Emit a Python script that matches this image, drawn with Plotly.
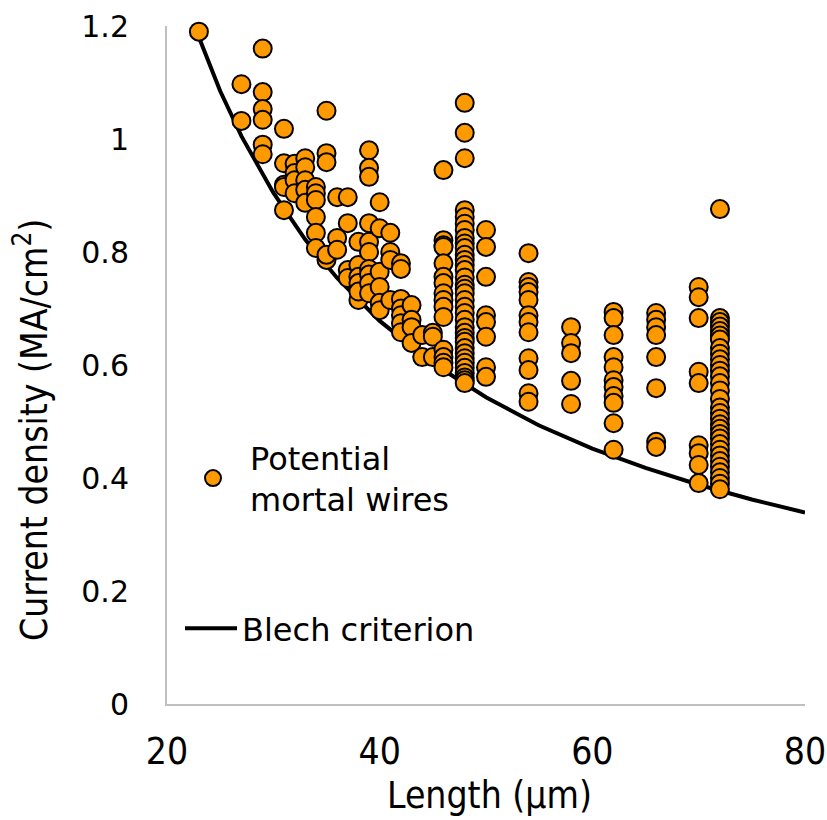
import plotly.graph_objects as go

# ---- data ----
wire_length = (
    [23] + [27]*2 + [29]*6 + [31]*5 + [32]*4 + [33]*5 + [34]*6 + [35]*5 + [36]*3 + [37]*4
    + [38]*6 + [39]*10 + [40]*6 + [41]*4 + [42]*7 + [43]*4 + [44]*2 + [45]*3 + [46]*15
    + [48]*35 + [50]*8 + [54]*12 + [58]*5 + [62]*11 + [66]*8 + [70]*9 + [72]*32
)
current_density = (
    [1.19]
    + [1.097, 1.032]
    + [1.16, 1.083, 1.053, 1.034, 0.99, 0.973]
    + [1.018, 0.957, 0.919, 0.874, 0.915]
    + [0.956, 0.94, 0.927, 0.904]
    + [0.966, 0.95, 0.927, 0.91, 0.887]
    + [0.915, 0.904, 0.892, 0.862, 0.834, 0.807]
    + [1.05, 0.975, 0.959, 0.786, 0.795]
    + [0.897, 0.825, 0.804]
    + [0.897, 0.851, 0.768, 0.754]
    + [0.818, 0.777, 0.756, 0.745, 0.715, 0.73]
    + [0.98, 0.949, 0.933, 0.851, 0.818, 0.8, 0.77, 0.76, 0.745, 0.727]
    + [0.888, 0.842, 0.765, 0.738, 0.71, 0.697]
    + [0.834, 0.8, 0.786, 0.715]
    + [0.78, 0.77, 0.717, 0.7, 0.688, 0.674, 0.658]
    + [0.706, 0.68, 0.667, 0.639]
    + [0.653, 0.614]
    + [0.657, 0.65, 0.614]
    + [0.945, 0.821, 0.812, 0.809, 0.78, 0.756, 0.745, 0.727, 0.715, 0.703, 0.685, 0.627, 0.614, 0.604, 0.596]
    + [1.064, 1.011, 0.966, 0.874, 0.862, 0.85, 0.839, 0.825, 0.815, 0.807, 0.795, 0.786, 0.777, 0.768,
       0.755, 0.742, 0.735, 0.727, 0.715, 0.703, 0.692, 0.68, 0.667, 0.657, 0.648, 0.641, 0.63, 0.621,
       0.612, 0.604, 0.595, 0.586, 0.578, 0.573, 0.568]
    + [0.839, 0.809, 0.756, 0.688, 0.676, 0.650, 0.596, 0.579]
    + [0.798, 0.747, 0.738, 0.729, 0.715, 0.688, 0.676, 0.658, 0.612, 0.591, 0.550, 0.535]
    + [0.667, 0.639, 0.621, 0.572, 0.531]
    + [0.694, 0.683, 0.653, 0.614, 0.596, 0.573, 0.561, 0.545, 0.533, 0.497, 0.45]
    + [0.692, 0.680, 0.667, 0.653, 0.614, 0.559, 0.464, 0.455]
    + [0.738, 0.72, 0.683, 0.588, 0.568, 0.458, 0.444, 0.423, 0.391]
    + [0.876, 0.683, 0.676, 0.668, 0.66, 0.652, 0.645, 0.63, 0.62, 0.61, 0.6, 0.59, 0.58, 0.568,
       0.555, 0.54, 0.525, 0.515, 0.505, 0.495, 0.487, 0.478, 0.47, 0.46, 0.45, 0.44, 0.43, 0.42,
       0.41, 0.4, 0.39, 0.38]
)
blech_length = [23, 25, 27, 30, 33, 36, 40, 45, 50, 55, 60, 65, 70, 75, 80]
blech_density = [1.18, 1.085, 1.005, 0.905, 0.822, 0.754, 0.678, 0.603, 0.543, 0.493, 0.452, 0.418, 0.388, 0.362, 0.339]

x_ticks = [20, 40, 60, 80]
y_ticks = [0, 0.2, 0.4, 0.6, 0.8, 1.0, 1.2]
y_tick_text = ["0", "0.2", "0.4", "0.6", "0.8", "1", "1.2"]

W, H = 827, 820
ML, MR, MT, MB = 167, 22, 26, 116

fig = go.Figure()
fig.add_trace(go.Scatter(
    x=blech_length, y=blech_density, mode="lines",
    line=dict(color="black", width=4),
    name="Blech criterion", legend="legend2", cliponaxis=False,
))
fig.add_trace(go.Scatter(
    x=wire_length, y=current_density, mode="markers",
    marker=dict(size=18, color="#FF9900", line=dict(color="black", width=2)),
    name="Potential<br>mortal wires", legend="legend", cliponaxis=False,
))

pw = W - ML - MR
ph = H - MT - MB

def px(xp):
    return (xp - ML) / pw

def py(yp):
    return (H - MB - yp) / ph

fig.update_layout(
    width=W, height=H,
    margin=dict(l=ML, r=MR, t=MT, b=MB, autoexpand=False),
    paper_bgcolor="white", plot_bgcolor="white",
    font=dict(family="DejaVu Sans", size=30, color="black"),
    showlegend=True,
    legend=dict(x=px(176), y=py(430), xanchor="left", yanchor="top",
                font=dict(family="DejaVu Sans", size=32, color="black"),
                bgcolor="rgba(0,0,0,0)", itemsizing="trace", valign="middle",
                itemwidth=64),
    legend2=dict(x=px(180), y=py(601), xanchor="left", yanchor="top",
                 font=dict(family="DejaVu Sans", size=32, color="black"),
                 bgcolor="rgba(0,0,0,0)", itemwidth=52),
    xaxis=dict(range=[20, 80], tickvals=x_ticks, showgrid=False, zeroline=False,
               showline=True, linecolor="#BFBFBF", linewidth=2, automargin=False,
               ticks="outside", ticklen=14, tickcolor="rgba(0,0,0,0)",
               tickfont=dict(family="DejaVu Sans Condensed", size=37, color="black")),
    yaxis=dict(range=[0, 1.2], tickvals=y_ticks, ticktext=y_tick_text, showgrid=False,
               zeroline=False, showline=True, linecolor="#BFBFBF", linewidth=2, automargin=False,
               ticks="outside", ticklen=30, tickcolor="rgba(0,0,0,0)",
               tickfont=dict(family="DejaVu Sans", size=30, color="black")),
    annotations=[
        dict(text="Length (µm)", xref="paper", yref="paper", x=px(489), y=py(795),
             xanchor="center", yanchor="middle", showarrow=False,
             font=dict(family="DejaVu Sans Condensed", size=37, color="black")),
        dict(text="Current density (MA/cm<sup>2</sup>)", xref="paper", yref="paper",
             x=px(31), y=py(430), xanchor="center", yanchor="middle", textangle=-90,
             showarrow=False,
             font=dict(family="DejaVu Sans Condensed", size=37, color="black")),
    ],
)

fig.write_html("out.html")
